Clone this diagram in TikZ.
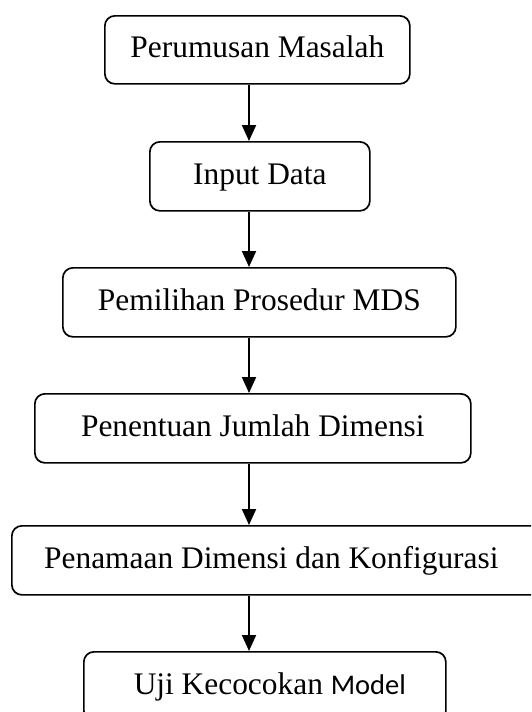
\documentclass[tikz,border=0pt]{standalone}
\usepackage{fontspec}
\setmainfont{Liberation Serif}
\newfontfamily\carl{Carlito}
\usetikzlibrary{arrows.meta}
\begin{document}
\begin{tikzpicture}[x=1pt,y=-1pt,
  stepbox/.style={draw=black, line width=1.7pt, rounded corners=10pt, fill=white,
    font=\fontsize{31.4}{36}\selectfont, text height=22pt, text depth=6pt,
    inner sep=0pt, anchor=north west},
  flow/.style={line width=2pt, -{Triangle[width=14pt,length=16pt]}}]
\useasboundingbox (0,0) rectangle (531,712);
\clip (0,0) rectangle (531,712);
\fill[white] (0,0) rectangle (531,712);
\coordinate (ax) at (249,0);
\node[stepbox, minimum width=305pt, minimum height=68pt] (b1) at (104,15) {Perumusan Masalah};
\node[stepbox, minimum width=220pt, minimum height=69pt] (b2) at (149,141) {Input Data};
\node[stepbox, minimum width=393pt, minimum height=69pt] (b3) at (62,267) {Pemilihan Prosedur MDS};
\node[stepbox, minimum width=436pt, minimum height=69pt] (b4) at (34,393) {Penentuan Jumlah Dimensi};
\node[stepbox, minimum width=540pt, minimum height=69pt] (b5) at (11,525) {Penamaan Dimensi dan Konfigurasi\kern21pt\relax};
\node[stepbox, minimum width=362pt, minimum height=69pt] (b6) at (83,651) {\kern10pt Uji Kecocokan {\carl\fontsize{28.5}{34}\selectfont Model}};
\draw[flow] (b1.south -| ax) -- (b2.north -| ax);
\draw[flow] (b2.south -| ax) -- (b3.north -| ax);
\draw[flow] (b3.south -| ax) -- (b4.north -| ax);
\draw[flow] (b4.south -| ax) -- (b5.north -| ax);
\draw[flow] (b5.south -| ax) -- (b6.north -| ax);
\end{tikzpicture}
\end{document}
